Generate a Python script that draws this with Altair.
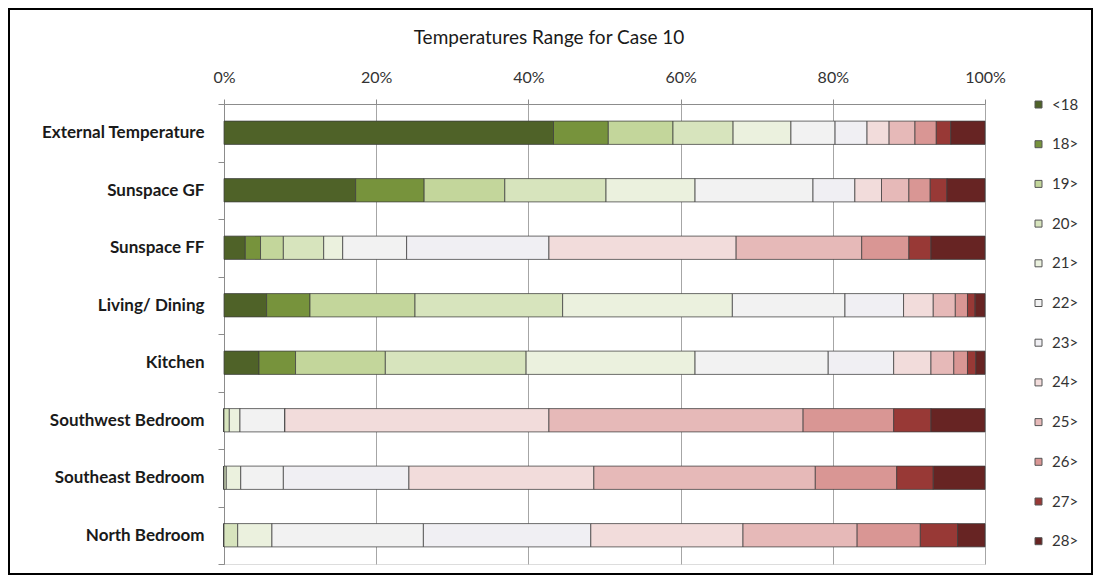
import altair as alt
import pandas as pd

rooms = ["External Temperature", "Sunspace GF", "Sunspace FF", "Living/ Dining",
         "Kitchen", "Southwest Bedroom", "Southeast Bedroom", "North Bedroom"]
bins = ["<18", "18>", "19>", "20>", "21>", "22>", "23>", "24>", "25>", "26>", "27>", "28>"]
colors = ["#4f6228", "#77933c", "#c3d69b", "#d7e4bd", "#ebf1de", "#f2f2f2",
          "#f0eff3", "#f2dcdb", "#e6b9b8", "#d99694", "#983936", "#672423"]
chart_title = "Temperatures Range for Case 10"

external = [43.3, 7.2, 8.5, 7.9, 7.6, 5.8, 4.2, 2.9, 3.4, 2.8, 1.9, 4.5]
sunspace_gf = [17.3, 9.0, 10.6, 13.3, 11.7, 15.5, 5.5, 3.5, 3.6, 2.8, 2.2, 5.0]
sunspace_ff = [2.8, 2.0, 3.0, 5.3, 2.5, 8.4, 18.7, 24.6, 16.5, 6.2, 2.9, 7.1]
living = [5.6, 5.7, 13.8, 19.4, 22.3, 14.8, 7.7, 3.9, 2.9, 1.6, 1.0, 1.3]
kitchen = [4.6, 4.8, 11.8, 18.5, 22.2, 17.5, 8.6, 4.9, 3.0, 1.8, 1.1, 1.2]
southwest = [0.0, 0.0, 0.0, 0.7, 1.4, 5.9, 0.0, 34.7, 33.4, 11.9, 4.9, 7.1]
southeast = [0.0, 0.0, 0.0, 0.3, 1.9, 5.6, 16.5, 24.3, 29.1, 10.7, 4.8, 6.8]
north = [0.0, 0.0, 0.0, 1.8, 4.5, 19.9, 22.0, 20.0, 15.0, 8.3, 4.9, 3.6]

series = [external, sunspace_gf, sunspace_ff, living, kitchen, southwest, southeast, north]

rows = []
for room, vals in zip(rooms, series):
    for i, (b, v) in enumerate(zip(bins, vals)):
        rows.append({"room": room, "bin": b, "value": v, "order": i})
df = pd.DataFrame(rows)

FONT = "Lato"

bars = alt.Chart(df).mark_bar(
    height={"band": 0.405}, stroke="#3d3d3d", strokeWidth=1, strokeOpacity=0.75
).encode(
    x=alt.X("value:Q", stack="normalize",
            scale=alt.Scale(domain=[0, 1], nice=False),
            axis=alt.Axis(orient="top", format=".0%", values=[0, 0.2, 0.4, 0.6, 0.8, 1.0],
                          grid=True, gridColor="#a6a6a6", gridWidth=1,
                          domainColor="#8c8c8c", tickColor="#8c8c8c", tickSize=5,
                          labelFont=FONT, labelFontSize=16, labelColor="#333333",
                          labelPadding=14, labelFlush=False),
            title=None),
    y=alt.Y("room:N", sort=rooms,
            scale=alt.Scale(paddingInner=0, paddingOuter=0),
            axis=alt.Axis(tickBand="extent", tickSize=6, tickColor="#8c8c8c",
                          domainColor="#8c8c8c", labelFont=FONT, labelFontSize=17,
                          labelFontWeight="bold", labelColor="#1a1a1a", labelPadding=14,
                          labelLimit=300),
            title=None),
    color=alt.Color("bin:N", sort=bins,
                    scale=alt.Scale(domain=bins, range=colors),
                    legend=alt.Legend(orient="none", legendX=807, legendY=-7,
                                      direction="vertical", title=None,
                                      symbolType="square", symbolSize=49,
                                      symbolStrokeColor="#555555", symbolStrokeWidth=1,
                                      labelFont=FONT, labelFontSize=15, labelColor="#333333",
                                      rowPadding=23.7, labelOffset=6, padding=0)),
    order=alt.Order("order:Q"),
)

title_mark = alt.Chart(pd.DataFrame({"t": [chart_title]})).mark_text(
    font=FONT, fontSize=19, color="#1a1a1a", align="center", baseline="middle"
).encode(
    text="t:N", x=alt.value(325), y=alt.value(-66)
)

frame = alt.Chart(pd.DataFrame({"f": [0]})).mark_rect(
    fillOpacity=0, stroke="black", strokeWidth=2
).encode(
    x=alt.value(-215), x2=alt.value(868), y=alt.value(-95), y2=alt.value(470)
)

chart = alt.layer(bars, title_mark, frame).properties(
    width=761,
    height=460,
    autosize=alt.AutoSizeParams(type="none"),
    padding={"left": 216, "top": 96, "right": 108, "bottom": 11},
).configure_view(stroke=None).configure(background="white")

chart.save("out.html", embed_options={"renderer": "svg", "actions": False})
